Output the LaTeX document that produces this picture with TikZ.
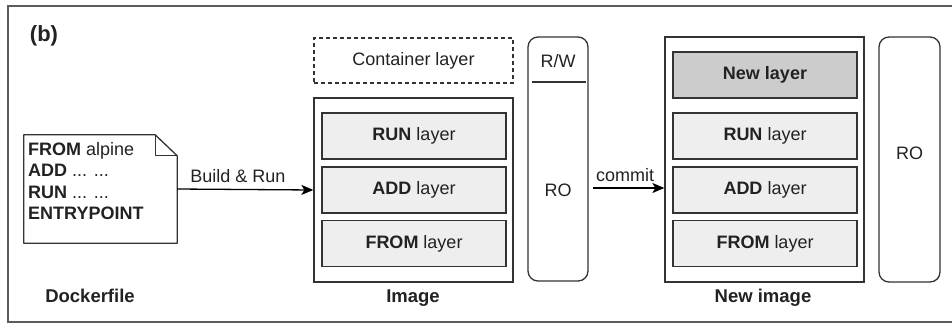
\documentclass[tikz,border=0pt]{standalone}
\usepackage{fontspec}
\setmainfont{Liberation Sans}
\usetikzlibrary{arrows.meta,calc}
\definecolor{ln}{HTML}{333333}
\definecolor{txt}{HTML}{222222}
\definecolor{layerfill}{HTML}{EEEEEE}
\definecolor{newfill}{HTML}{CCCCCC}
\begin{document}
\begin{tikzpicture}[x=1pt,y=-1pt,
  every node/.style={text=txt, font=\fontsize{18}{21}\selectfont},
  box/.style={draw=ln, line width=1.3pt, inner sep=0pt},
  layerbox/.style={box, fill=layerfill, minimum width=184pt, minimum height=46pt},
  newbox/.style={box, fill=newfill, minimum width=184pt, minimum height=46pt},
  imgbox/.style={box, fill=white, minimum width=199pt},
  pillbox/.style={box, rounded corners=10pt},
  caption/.style={font=\fontsize{18.5}{21}\selectfont\bfseries},
  conn/.style={draw=black, line width=1.3pt, -{Stealth[length=12pt,width=10pt,inset=3pt]}},
  lbl/.style={inner sep=1pt}
]
\useasboundingbox (0,0) rectangle (952,327);
\draw[draw=ln!80, line width=1.4pt] (8,6) rectangle (962,322);

\node[font=\fontsize{22}{24}\selectfont\bfseries] (blabel) at (44,36) {(b)};

% Dockerfile note
\node[minimum width=153pt, minimum height=108pt, inner sep=0pt] (dockerfile) at (100.5,189) {};
\draw[ln, line width=1.3pt, fill=white, line join=round]
  (dockerfile.north west) -- ($(dockerfile.north east)+(-22,0)$)
  -- ($(dockerfile.north east)+(0,21)$) -- (dockerfile.south east)
  -- (dockerfile.south west) -- cycle;
\draw[ln, line width=1.3pt, line join=round]
  ($(dockerfile.north east)+(-22,0)$) -- ($(dockerfile.north east)+(-22,21)$) -- ($(dockerfile.north east)+(0,21)$);
\node[anchor=north west, align=left, inner sep=0pt, font=\fontsize{18}{21.5}\selectfont] (dftext) at (28,142)
  {\textbf{FROM} alpine\\ \textbf{ADD} ... ...\\ \textbf{RUN} ... ...\\ \textbf{ENTRYPOINT}};
\node[caption] (dfcap) at (90,296) {Dockerfile};

% Image
\node[box, dashed, dash pattern=on 4pt off 3pt, minimum width=199pt, minimum height=45pt] (container) at (413.5,60.5) {Container layer};
\node[imgbox, minimum height=184pt] (image) at (413.5,190) {};
\node[layerbox] (run1) at (414,136) {\textbf{RUN} layer};
\node[layerbox] (add1) at (414,190) {\textbf{ADD} layer};
\node[layerbox] (from1) at (414,243.5) {\textbf{FROM} layer};
\node[caption] (imgcap) at (413,298) {Image};

% R/W - RO pill
\node[pillbox, minimum width=60pt, minimum height=244pt] (rw) at (558,159) {};
\coordinate (sepL) at (532,82);
\coordinate (sepR) at (586,82);
\draw[ln, line width=1.3pt] (sepL) -- (sepR);
\node (rwtext) at (558,61) {R/W};
\node (rotext) at (558,190) {RO};

% New image
\node[imgbox, minimum height=245pt] (newimg) at (764.5,159.5) {};
\node[newbox] (newl) at (765,75) {\textbf{New layer}};
\node[layerbox] (run2) at (765,136) {\textbf{RUN} layer};
\node[layerbox] (add2) at (765,190) {\textbf{ADD} layer};
\node[layerbox] (from2) at (765,243.5) {\textbf{FROM} layer};
\node[caption] (newcap) at (763,298) {New image};

\node[pillbox, minimum width=61pt, minimum height=245pt] (ro2) at (909.5,159.5) {};
\node (ro2text) at (909.5,153) {RO};

% connectors
\draw[conn] (dockerfile.east) -- (image.west);
\node[lbl] (buildlbl) at (238,176) {Build \& Run};
\coordinate (cstart) at (593,188);
\draw[conn] (cstart) -- (newimg.west |- cstart);
\node[lbl] (commitlbl) at (625,175) {commit};
\end{tikzpicture}
\end{document}
